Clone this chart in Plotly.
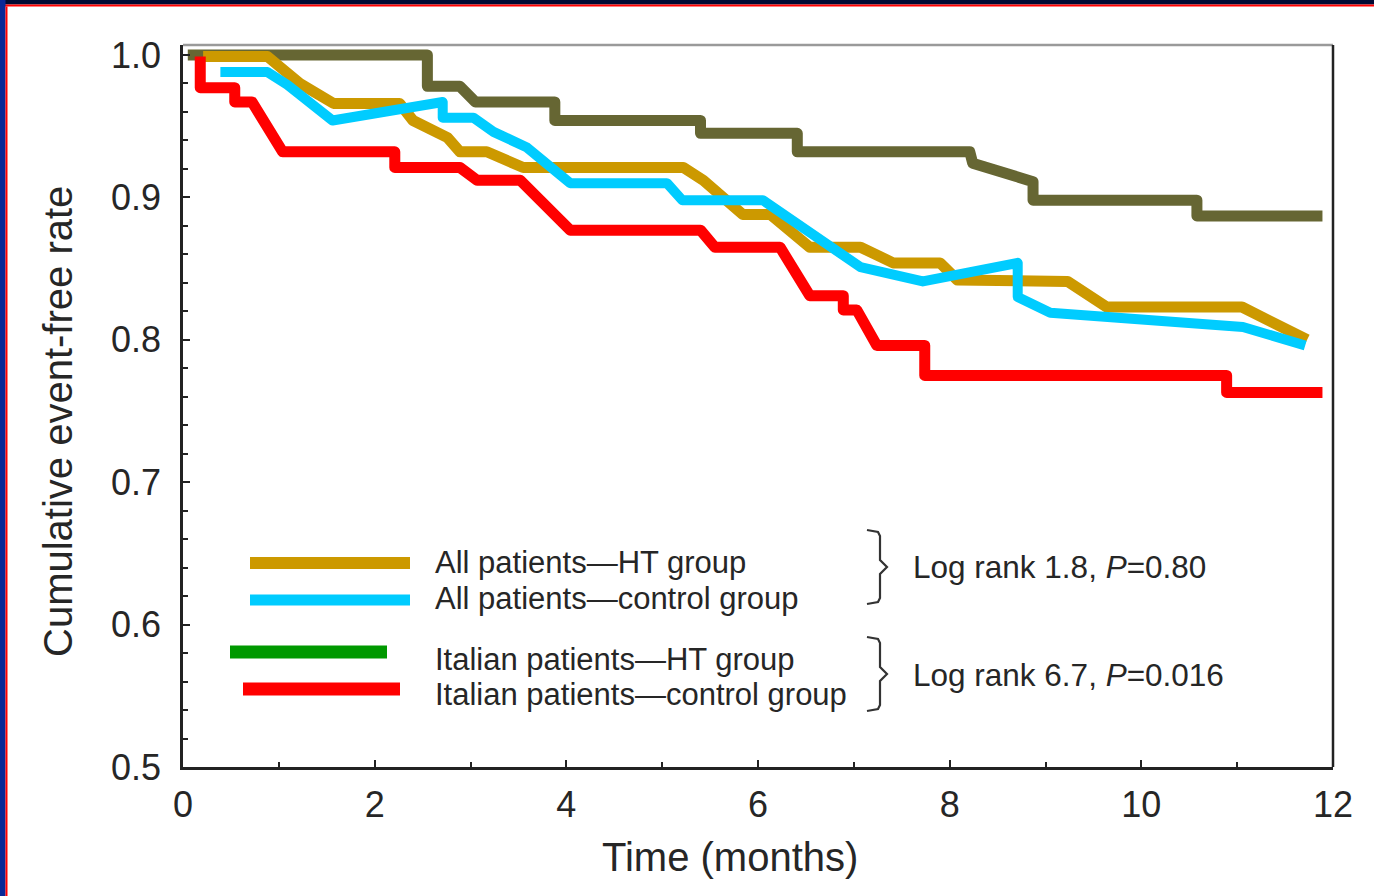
import plotly.graph_objects as go

# ---------------- data ----------------
italian_ht_t = [0.05, 2.55, 2.55, 2.89, 3.05, 3.88, 3.88, 5.40, 5.40, 6.41, 6.41, 8.21, 8.24, 8.87, 8.87, 10.58, 10.58, 11.89]
italian_ht_v = [1.000, 1.000, 0.978, 0.978, 0.967, 0.967, 0.954, 0.954, 0.945, 0.945, 0.932, 0.932, 0.924, 0.911, 0.898, 0.898, 0.887, 0.887]

all_ht_t = [0.21, 0.88, 1.22, 1.57, 2.26, 2.40, 2.76, 2.89, 3.17, 3.55, 5.22, 5.43, 5.84, 6.13, 6.54, 7.07, 7.41, 7.90, 8.08, 9.23, 9.64, 11.05, 11.73]
all_ht_v = [0.999, 0.999, 0.980, 0.966, 0.966, 0.954, 0.942, 0.932, 0.932, 0.921, 0.921, 0.912, 0.888, 0.888, 0.865, 0.865, 0.854, 0.854, 0.842, 0.841, 0.823, 0.823, 0.800]

all_ctrl_t = [0.39, 0.88, 1.09, 1.56, 2.71, 2.71, 3.03, 3.24, 3.59, 4.04, 5.05, 5.21, 6.05, 7.07, 7.72, 8.71, 8.71, 9.05, 11.06, 11.71]
all_ctrl_v = [0.988, 0.988, 0.979, 0.954, 0.967, 0.956, 0.956, 0.946, 0.935, 0.910, 0.910, 0.898, 0.898, 0.851, 0.841, 0.854, 0.830, 0.819, 0.809, 0.796]

italian_ctrl_t = [0.18, 0.18, 0.54, 0.54, 0.72, 1.04, 2.21, 2.21, 2.89, 3.07, 3.52, 4.04, 5.40, 5.55, 6.23, 6.54, 6.89, 6.89, 7.03, 7.24, 7.74, 7.74, 10.89, 10.89, 11.89]
italian_ctrl_v = [0.999, 0.977, 0.977, 0.967, 0.967, 0.932, 0.932, 0.921, 0.921, 0.912, 0.912, 0.877, 0.877, 0.865, 0.865, 0.831, 0.831, 0.821, 0.821, 0.796, 0.796, 0.775, 0.775, 0.763, 0.763]

x_ticks = [0, 2, 4, 6, 8, 10, 12]
y_ticks = [0.5, 0.6, 0.7, 0.8, 0.9, 1.0]
y_tick_labels = ["0.5", "0.6", "0.7", "0.8", "0.9", "1.0"]

x_title = "Time (months)"
y_title = "Cumulative event-free rate"
legend_labels = ["All patients—HT group", "All patients—control group",
                 "Italian patients—HT group", "Italian patients—control group"]
logrank_labels = ["Log rank 1.8, <i>P</i>=0.80", "Log rank 6.7, <i>P</i>=0.016"]

# ---------------- styling ----------------
OLIVE = "#666633"
GOLD = "#CC9900"
CYAN = "#00CCFF"
RED = "#FF0000"
GREEN = "#009900"
FONT = "Liberation Sans, Arial, sans-serif"
TXT = "#262626"

W, H = 1374, 896
L, R, T, B = 183, 1333, 45, 767  # plot area in pixels


def px(x):
    return (x - L) / (R - L)


def py(y):
    return (B - y) / (B - T)


fig = go.Figure()
for t, v, c, w in [(italian_ht_t, italian_ht_v, OLIVE, 11),
                   (all_ht_t, all_ht_v, GOLD, 11),
                   (all_ctrl_t, all_ctrl_v, CYAN, 10),
                   (italian_ctrl_t, italian_ctrl_v, RED, 11)]:
    fig.add_trace(go.Scatter(x=t, y=v, mode="lines", line=dict(color=c, width=w),
                             showlegend=False, hoverinfo="skip"))

shapes = []
# frame decoration
shapes.append(dict(type="rect", xref="paper", yref="paper", x0=px(0), x1=px(W), y0=py(0), y1=py(4.5),
                   fillcolor="#000a33", line_width=0, layer="above"))
shapes.append(dict(type="rect", xref="paper", yref="paper", x0=px(0), x1=px(W), y0=py(4.5), y1=py(6.5),
                   fillcolor="#ff0000", line_width=0, layer="above"))
shapes.append(dict(type="rect", xref="paper", yref="paper", x0=px(0), x1=px(5.5), y0=py(H), y1=py(0),
                   fillcolor="#0a2896", line_width=0, layer="above"))
shapes.append(dict(type="rect", xref="paper", yref="paper", x0=px(5.5), x1=px(7.5), y0=py(H), y1=py(6.5),
                   fillcolor="#ff0000", line_width=0, layer="above"))
# top (gray) and right (black) borders
shapes.append(dict(type="line", xref="paper", yref="paper", x0=0, x1=1, y0=1, y1=1,
                   line=dict(color="#9a9a9a", width=2.5)))
shapes.append(dict(type="line", xref="paper", yref="paper", x0=1, x1=1, y0=0, y1=1,
                   line=dict(color="#222222", width=2.5)))

# legend swatches
for (x0, x1, yc, c, th) in [(250, 410, 563, GOLD, 12), (250, 410, 600, CYAN, 11),
                            (230, 387, 652, GREEN, 13), (243, 400, 689, RED, 13)]:
    shapes.append(dict(type="rect", xref="paper", yref="paper", x0=px(x0), x1=px(x1),
                       y0=py(yc + th / 2), y1=py(yc - th / 2), fillcolor=c, line_width=0))


def brace(ytop, ybot):
    ym = (ytop + ybot) / 2
    pts = [(867, ytop), (878, ytop + 2), (880, ytop + 6), (880, ym - 7), (887, ym),
           (880, ym + 7), (880, ybot - 6), (878, ybot - 2), (867, ybot)]
    d = "M " + " L ".join(f"{px(a):.5f},{py(b):.5f}" for a, b in pts)
    return dict(type="path", xref="paper", yref="paper", path=d,
                line=dict(color="#333333", width=2.2))


shapes.append(brace(530, 604))
shapes.append(brace(637, 711))

annotations = []
for lab, yc in zip(legend_labels, [562, 598, 659, 694]):
    annotations.append(dict(xref="paper", yref="paper", x=px(433), y=py(yc), text=lab, showarrow=False,
                            xanchor="left", yanchor="middle", font=dict(family=FONT, size=31, color=TXT)))
for lab, yc in zip(logrank_labels, [567, 675]):
    annotations.append(dict(xref="paper", yref="paper", x=px(911), y=py(yc), text=lab, showarrow=False,
                            xanchor="left", yanchor="middle", font=dict(family=FONT, size=31.5, color=TXT)))
# axis titles
annotations.append(dict(xref="paper", yref="paper", x=px(730), y=py(857), text=x_title, showarrow=False,
                        xanchor="center", yanchor="middle", font=dict(family=FONT, size=40, color=TXT)))
annotations.append(dict(xref="paper", yref="paper", x=px(58), y=py(422), text=y_title, showarrow=False,
                        textangle=-90, xanchor="center", yanchor="middle",
                        font=dict(family=FONT, size=40, color=TXT)))

fig.update_layout(
    width=W, height=H,
    margin=dict(l=L, r=W - R, t=T, b=H - B, pad=0),
    paper_bgcolor="white", plot_bgcolor="white",
    shapes=shapes, annotations=annotations,
    font=dict(family=FONT, color=TXT),
)
fig.update_xaxes(range=[0, 12], tickvals=x_ticks, ticks="inside", ticklen=7, tickwidth=2, tickcolor="#222",
                 showline=True, linecolor="#222", linewidth=2.5, showgrid=False, zeroline=False,
                 tickfont=dict(family=FONT, size=36, color=TXT), ticklabelstandoff=4,
                 minor=dict(dtick=1, ticks="inside", ticklen=5, tickwidth=2, tickcolor="#222"))
fig.update_yaxes(range=[0.5, 1.007], tickvals=y_ticks, ticktext=y_tick_labels, ticks="inside", ticklen=7,
                 tickwidth=2, tickcolor="#222",
                 showline=True, linecolor="#222", linewidth=2.5, showgrid=False, zeroline=False,
                 tickfont=dict(family=FONT, size=36, color=TXT), ticklabelstandoff=12,
                 minor=dict(tickvals=[0.52 + 0.02 * i for i in range(25)], ticks="inside", ticklen=5,
                            tickwidth=2, tickcolor="#222"))

post = ("document.body.style.margin='0';document.body.style.overflow='hidden';"
        "document.querySelectorAll('.js-line').forEach(function(p){p.style.strokeLinejoin='round';"
        "p.style.strokeLinecap='butt';});")
fig.write_html("out.html", post_script=post, config={"displayModeBar": False})
